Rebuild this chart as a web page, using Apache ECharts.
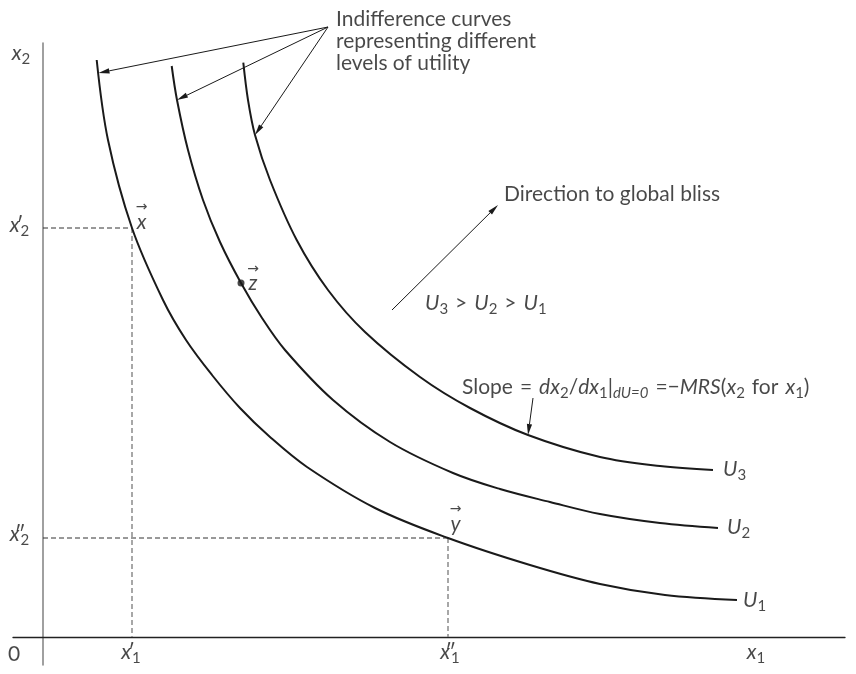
<!DOCTYPE html>
<html>
<head>
<meta charset="utf-8">
<script src="https://cdn.jsdelivr.net/npm/echarts@6/dist/echarts.min.js"></script>
<style>
  html, body { margin: 0; padding: 0; background: #fff; }
  #chart { width: 856px; height: 674px; }
</style>
</head>
<body>
<div id="chart"></div>
<script>
// Indifference curves as [x1, x2] bundles, lowest utility first
const curveU1 = [[5.37, 57.7], [6.5, 49.7], [8.9, 40.9], [12.0, 33.7], [14.3, 29.7], [16.9, 26.2], [19.7, 22.9], [22.7, 20.0], [26.4, 17.0], [33.2, 12.9], [40.5, 9.9], [48.7, 7.2], [55.7, 5.3], [62.2, 4.2], [69.4, 3.7]];
const curveU2 = [[12.87, 57.1], [13.4, 53.7], [14.5, 48.7], [16.0, 43.7], [17.7, 39.5], [19.8, 35.4], [21.9, 31.9], [24.2, 28.7], [29.0, 23.7], [34.7, 19.5], [41.0, 16.4], [45.7, 14.8], [50.7, 13.5], [55.7, 12.3], [61.7, 11.4], [67.5, 10.9]];
const curveU3 = [[20.03, 57.43], [20.5, 53.7], [21.2, 50.2], [22.7, 45.7], [25.37, 39.7], [28.5, 34.7], [32.2, 30.5], [37.7, 26.0], [42.7, 22.9], [48.5, 20.2], [55.7, 18.0], [61.7, 17.1], [67.0, 16.7]];
const curveNames = ['U1', 'U2', 'U3'];

// Named bundles
const bundleX = [8.9, 40.9];   // on U1
const bundleY = [40.5, 9.9];   // on U1
const bundleZ = [19.8, 35.4];  // on U2

// Annotation arrows: [fromX, fromY, toX, toY]
const noteArrows = [
  [28.5, 61.0, 5.55, 56.4],
  [28.5, 61.0, 13.4, 53.7],
  [28.5, 61.0, 21.2, 50.2],
  [49.0, 23.9, 48.5, 20.2]
];
const blissArrow = [34.9, 32.7, 45.5, 43.2];

const F = 'Lato, "DejaVu Sans", sans-serif';
const INK = '#1a1a1a';

// rich-text pieces: normal, italic, subscript, italic subscript, prime, vector arrow
const base = { fontFamily: F, color: INK, verticalAlign: 'bottom' };
const rich = {
  n:  Object.assign({}, base, { fontSize: 21, lineHeight: 22, padding: [0, 0, 3, 0] }),
  i:  Object.assign({}, base, { fontSize: 21, fontStyle: 'italic', lineHeight: 22, padding: [0, 0, 3, 0] }),
  p:  Object.assign({}, base, { fontSize: 21, lineHeight: 22, padding: [0, 0, 3, 0], width: 1 }),
  s:  Object.assign({}, base, { fontSize: 15, lineHeight: 16 }),
  si: Object.assign({}, base, { fontSize: 15, fontStyle: 'italic', lineHeight: 16 }),
  va: { fontFamily: '"DejaVu Sans", sans-serif', fontSize: 14, color: INK, lineHeight: 9 },
  vi: { fontFamily: F, fontSize: 21, color: INK, fontStyle: 'italic', lineHeight: 20 }
};

function note(x, y, text, align, vAlign) {
  return {
    value: [x, y],
    label: {
      show: true, position: [0, 0], formatter: text,
      align: align || 'center', verticalAlign: vAlign || 'middle', rich: rich
    }
  };
}
const sub = (b, idx) => `{i|${b}}{s|${idx}}`;
const gap = '\u2004';

const notes = [
  note(-2.2, 58.15, sub('x', '2')),
  note(-2.35, 40.95, `{i|x}{p|′}{s|2}`),
  note(-2.35, 10.05, `{i|x}{p|″}{s|2}`),
  note(-2.9, -1.95, `{n|0}`),
  note(bundleX[0] - 0.1, -1.75, `{i|x}{p|′}{s|1}`),
  note(bundleY[0] + 0.2, -1.75, `{i|x}{p|″}{s|1}`),
  note(71.3, -1.75, sub('x', '1')),
  note(bundleX[0] + 0.95, bundleX[1] + 1.05, `{va|→}\n{vi|x}`),
  note(bundleZ[0] + 1.2, bundleZ[1] + 0.4, `{va|→}\n{vi|z}`),
  note(bundleY[0] + 0.75, bundleY[1] + 1.85, `{va|→}\n{vi|y}`),
  note(curveU1[curveU1.length - 1][0] + 0.6, 3.45, sub('U', '1'), 'left'),
  note(curveU2[curveU2.length - 1][0] + 0.9, 10.75, sub('U', '2'), 'left'),
  note(curveU3[curveU3.length - 1][0] + 1.0, 16.55, sub('U', '3'), 'left'),
  note(29.3, 59.35, '{n|Indifference curves}\n{n|representing different}\n{n|levels of utility}', 'left'),
  note(46.1, 44.0, '{n|Direction to global bliss}', 'left'),
  note(38.2, 33.15, `${sub('U', '3')}{n|${gap}>${gap}}${sub('U', '2')}{n|${gap}>${gap}}${sub('U', '1')}`, 'left'),
  note(41.9, 24.75, `{n|Slope${gap}=${gap}}{i|dx}{s|2}{n|/}{i|dx}{s|1}{n||}{si|dU=0}{n|${gap}=−}{i|MRS}{n|(}{i|x}{s|2}{n|${gap}for${gap}}{i|x}{s|1}{n|)}`, 'left')
];

function arrowItem(params, api) {
  const a = api.coord([api.value(0), api.value(1)]);
  const b = api.coord([api.value(2), api.value(3)]);
  const ang = Math.atan2(b[1] - a[1], b[0] - a[0]);
  const L = 11, W = 2.6;
  const bx = b[0] - L * Math.cos(ang), by = b[1] - L * Math.sin(ang);
  const px = -Math.sin(ang) * W, py = Math.cos(ang) * W;
  return {
    type: 'group',
    children: [
      { type: 'line', shape: { x1: a[0], y1: a[1], x2: bx, y2: by }, style: { stroke: INK, lineWidth: 1 } },
      { type: 'polygon', shape: { points: [[b[0], b[1]], [bx + px, by + py], [bx - px, by - py]] }, style: { fill: INK } }
    ]
  };
}

const curveSeries = [curveU1, curveU2, curveU3].map((pts, k) => ({
  name: curveNames[k],
  type: 'line',
  data: pts,
  smooth: 0.35,
  showSymbol: false,
  silent: true,
  lineStyle: { color: INK, width: 2 }
}));

const chart = echarts.init(document.getElementById('chart'), null, { renderer: 'canvas' });
chart.setOption({
  animation: false,
  backgroundColor: '#fff',
  grid: { left: 13, right: 11, top: 43, bottom: 9 },
  xAxis: {
    type: 'value', min: -3, max: 80.2,
    axisLine: { onZero: true, lineStyle: { color: '#222', width: 1.3 } },
    axisTick: { show: false }, axisLabel: { show: false }, splitLine: { show: false }
  },
  yAxis: {
    type: 'value', min: -2.8, max: 59.4,
    axisLine: { onZero: true, lineStyle: { color: '#808080', width: 1.5 } },
    axisTick: { show: false }, axisLabel: { show: false }, splitLine: { show: false }
  },
  series: [
    // guide lines to the axes for bundles x and y
    { type: 'line', silent: true, showSymbol: false,
      data: [[0, bundleX[1]], bundleX], lineStyle: { color: '#333', width: 1, type: [5, 3] } },
    { type: 'line', silent: true, showSymbol: false,
      data: [bundleX, [bundleX[0], 0]], lineStyle: { color: '#8a8a8a', width: 1.5, type: [5, 3] } },
    { type: 'line', silent: true, showSymbol: false,
      data: [[0, bundleY[1]], bundleY], lineStyle: { color: '#333', width: 1, type: [5, 3] } },
    { type: 'line', silent: true, showSymbol: false,
      data: [bundleY, [bundleY[0], 0]], lineStyle: { color: '#8a8a8a', width: 1.5, type: [5, 3] } },
    ...curveSeries,
    { type: 'scatter', silent: true, data: [bundleZ], symbolSize: 7, itemStyle: { color: INK } },
    { type: 'custom', silent: true, clip: false, renderItem: arrowItem, data: noteArrows.concat([blissArrow]) },
    { type: 'scatter', silent: true, clip: false, symbolSize: 0, data: notes }
  ]
});
</script>
</body>
</html>
